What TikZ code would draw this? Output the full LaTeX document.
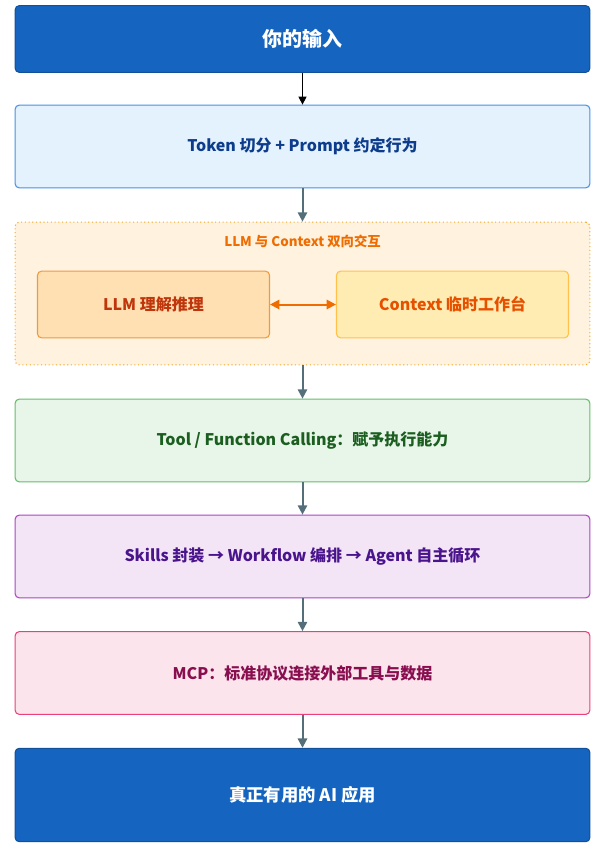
\documentclass[tikz,border=0pt]{standalone}
\usepackage{fontspec}
\setmainfont{Noto Sans CJK SC}
\usetikzlibrary{arrows.meta}
\definecolor{deepblue}{HTML}{1565C0}
\definecolor{grayarrow}{HTML}{546E7A}
\definecolor{tokenfill}{HTML}{E3F2FD}
\definecolor{tokenline}{HTML}{4A90E2}
\definecolor{tokentext}{HTML}{0D3C8C}
\definecolor{groupfill}{HTML}{FFF3E0}
\definecolor{groupline}{HTML}{F5A623}
\definecolor{grouptext}{HTML}{EF6C00}
\definecolor{llmfill}{HTML}{FFE0B2}
\definecolor{llmline}{HTML}{F09A40}
\definecolor{llmtext}{HTML}{BF360C}
\definecolor{ctxfill}{HTML}{FFECB3}
\definecolor{ctxline}{HTML}{FFC04D}
\definecolor{ctxtext}{HTML}{E65100}
\definecolor{toolfill}{HTML}{E8F5E9}
\definecolor{toolline}{HTML}{66BB6A}
\definecolor{tooltext}{HTML}{1B5E20}
\definecolor{skillfill}{HTML}{F3E5F5}
\definecolor{skillline}{HTML}{AB47BC}
\definecolor{skilltext}{HTML}{4A148C}
\definecolor{mcpfill}{HTML}{FCE4EC}
\definecolor{mcpline}{HTML}{EC407A}
\definecolor{mcptext}{HTML}{880E4F}

\begin{document}
\begin{tikzpicture}[x=0.75pt, y=-0.75pt, font=\bfseries,
  stage/.style={draw, rounded corners=3pt, line width=0.8pt, minimum width=431pt, minimum height=62pt, font=\bfseries\fontsize{12}{14}\selectfont},
  inner/.style={draw, rounded corners=3pt, line width=0.8pt, minimum width=174pt, minimum height=50pt, font=\bfseries\fontsize{12}{14}\selectfont},
  flow/.style={-{Triangle[length=7pt, width=7pt]}, line width=1.5pt, grayarrow}]
\useasboundingbox (0,0) rectangle (605,850);

\node[stage, fill=deepblue, draw=deepblue!80!black, text=white, minimum height=50pt, font=\bfseries\fontsize{15}{18}\selectfont] (input) at (302.5,39) {你的输入};
\node[stage, fill=tokenfill, draw=tokenline, text=tokentext] (token) at (302.5,146.5) {Token 切分 + Prompt 约定行为};

\begin{scope}
  \node[stage, fill=groupfill, draw=groupline, dotted, minimum height=107pt] (group) at (302.5,293.5) {};
  \node[text=grouptext, font=\bfseries\fontsize{10}{12}\selectfont] (gtitle) at (302.5,241) {LLM 与 Context 双向交互};
  \node[inner, fill=llmfill, draw=llmline, text=llmtext] (llm) at (153.5,304.5) {LLM 理解推理};
  \node[inner, fill=ctxfill, draw=ctxline, text=ctxtext] (ctx) at (452.5,304.5) {Context 临时工作台};
\end{scope}

\node[stage, fill=toolfill, draw=toolline, text=tooltext] (tool) at (302.5,440.5) {Tool / Function Calling：赋予执行能力};
\node[stage, fill=skillfill, draw=skillline, text=skilltext] (skills) at (302.5,556.5) {Skills 封装 → Workflow 编排 → Agent 自主循环};
\node[stage, fill=mcpfill, draw=mcpline, text=mcptext] (mcp) at (302.5,673) {MCP：标准协议连接外部工具与数据};
\node[stage, fill=deepblue, draw=deepblue!80!black, text=white, minimum height=70pt, font=\bfseries\fontsize{13}{16}\selectfont] (output) at (302.5,795) {真正有用的 AI 应用};

\draw[-{Triangle[length=6pt, width=6pt]}, line width=0.8pt] (input) -- (token);
\draw[flow] (token) -- (group);
\draw[{Triangle[length=7pt, width=7pt]}-{Triangle[length=7pt, width=7pt]}, line width=1.5pt, grouptext] (llm) -- (ctx);
\draw[flow] (group) -- (tool);
\draw[flow] (tool) -- (skills);
\draw[flow] (skills) -- (mcp);
\draw[flow] (mcp) -- (output);

\end{tikzpicture}
\end{document}
